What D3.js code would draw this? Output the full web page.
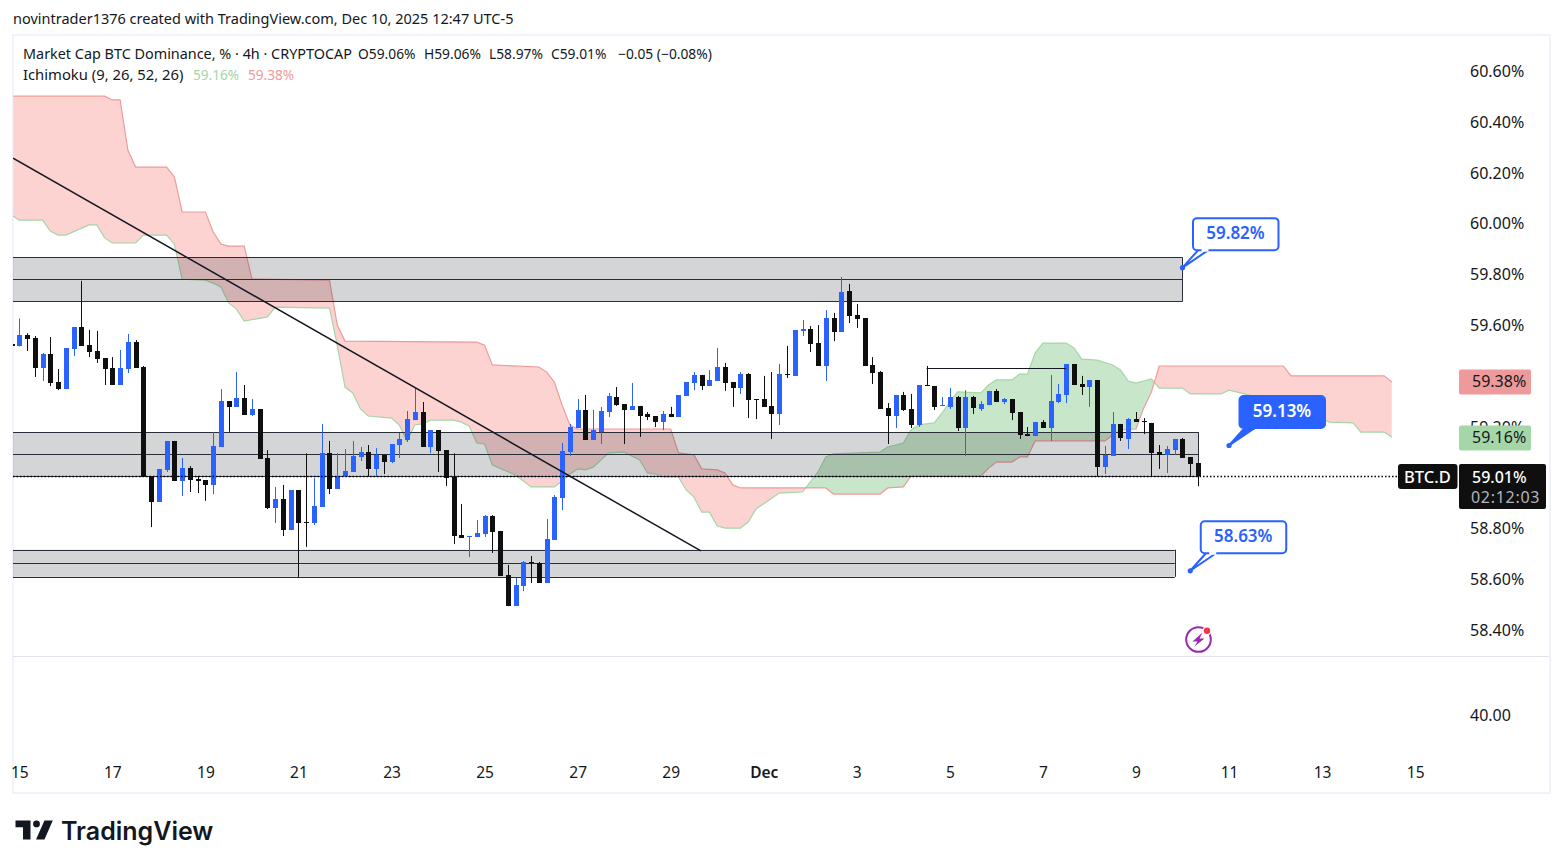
<!DOCTYPE html>
<html>
<head>
<meta charset="utf-8">
<script src="https://cdn.jsdelivr.net/npm/d3@7"></script>
<style>
  html, body { margin: 0; padding: 0; background: #fff; }
  svg { display: block; }
  text { font-family: "Noto Sans", sans-serif; fill: #131722; }
</style>
</head>
<body>
<div class="d3-container"></div>
<script>
// candles, 4h bars. the first one is the sliver cut off by the left edge
const opens = [59.529,
  59.520,59.565,59.553,59.435,59.490,59.380,59.352,59.510,59.596,59.526,
  59.502,59.474,59.435,59.368,59.431,59.537,59.439,59.010,58.908,59.034,
  59.148,58.990,59.041,58.998,58.994,58.975,59.124,59.305,59.282,59.317,
  59.250,59.274,59.081,58.884,58.919,58.797,58.955,58.829,58.825,58.888,
  59.099,58.959,59.006,59.026,59.085,59.104,59.038,59.093,59.065,59.132,
  59.152,59.230,59.262,59.124,59.191,59.112,59.006,58.778,58.771,58.770,
  58.782,58.853,58.794,58.620,58.498,58.577,58.672,58.668,58.589,58.758,
  58.923,59.104,59.199,59.270,59.152,59.183,59.262,59.321,59.293,59.270,
  59.286,59.254,59.246,59.223,59.254,59.242,59.325,59.376,59.408,59.364,
  59.384,59.439,59.380,59.356,59.411,59.313,59.313,59.286,59.254,59.411,
  59.404,59.581,59.589,59.533,59.443,59.632,59.577,59.738,59.644,59.632,
  59.447,59.419,59.278,59.246,59.329,59.274,59.211,59.368,59.364,59.286,
  59.282,59.321,59.199,59.321,59.274,59.289,59.345,59.301,59.313,59.262,
  59.175,59.167,59.223,59.199,59.301,59.329,59.451,59.372,59.360,59.388,
  59.045,59.089,59.215,59.156,59.234,59.226,59.219,59.104,59.093,59.112,
  59.156,59.085,59.060];
const highs = [59.529,
  59.630,59.572,59.561,59.494,59.557,59.431,59.514,59.596,59.778,59.585,
  59.581,59.474,59.478,59.506,59.569,59.545,59.443,59.010,59.038,59.148,
  59.148,59.081,59.049,59.010,58.994,59.183,59.352,59.305,59.419,59.368,
  59.313,59.274,59.112,58.967,58.975,58.955,58.955,59.099,59.002,59.215,
  59.148,59.100,59.116,59.148,59.124,59.132,59.120,59.093,59.136,59.179,
  59.266,59.356,59.301,59.191,59.191,59.112,59.099,58.900,58.774,58.837,
  58.856,58.856,58.794,58.660,58.609,58.675,58.695,58.672,58.841,58.935,
  59.140,59.215,59.313,59.329,59.270,59.282,59.337,59.360,59.293,59.376,
  59.286,59.262,59.246,59.266,59.282,59.329,59.380,59.419,59.408,59.427,
  59.514,59.455,59.380,59.419,59.415,59.313,59.404,59.419,59.451,59.522,
  59.585,59.624,59.600,59.604,59.663,59.652,59.793,59.766,59.687,59.632,
  59.478,59.423,59.297,59.329,59.341,59.333,59.368,59.443,59.364,59.321,
  59.356,59.325,59.348,59.325,59.305,59.345,59.352,59.317,59.313,59.262,
  59.203,59.223,59.230,59.408,59.372,59.451,59.451,59.404,59.388,59.388,
  59.128,59.262,59.215,59.238,59.262,59.238,59.219,59.132,59.128,59.156,
  59.160,59.085,59.060];
const lows = [59.521,
  59.520,59.502,59.400,59.384,59.364,59.348,59.352,59.482,59.522,59.478,
  59.455,59.368,59.368,59.368,59.415,59.435,59.006,58.809,58.908,59.026,
  58.990,58.931,58.947,58.943,58.912,58.939,59.124,59.184,59.282,59.250,
  59.246,59.077,58.880,58.825,58.774,58.797,58.613,58.731,58.817,58.888,
  58.939,58.959,59.006,59.026,59.069,59.010,59.010,59.018,59.061,59.081,
  59.144,59.230,59.124,59.100,59.026,58.971,58.742,58.766,58.691,58.770,
  58.770,58.707,58.616,58.498,58.498,58.557,58.589,58.589,58.589,58.758,
  58.876,59.089,59.199,59.152,59.152,59.136,59.242,59.286,59.136,59.270,
  59.164,59.230,59.203,59.191,59.242,59.242,59.325,59.348,59.348,59.364,
  59.384,59.345,59.282,59.333,59.238,59.234,59.282,59.156,59.211,59.396,
  59.404,59.561,59.498,59.443,59.384,59.541,59.577,59.612,59.593,59.443,
  59.372,59.274,59.136,59.199,59.266,59.199,59.203,59.364,59.270,59.286,
  59.274,59.187,59.089,59.254,59.266,59.289,59.301,59.293,59.230,59.156,
  59.167,59.167,59.199,59.148,59.297,59.297,59.368,59.329,59.282,59.010,
  59.018,59.089,59.148,59.116,59.223,59.175,59.010,59.038,59.022,59.093,
  59.081,59.010,58.970];
const closes = [59.521,
  59.565,59.549,59.435,59.490,59.376,59.352,59.514,59.596,59.522,59.498,
  59.471,59.431,59.368,59.435,59.537,59.435,59.006,58.908,59.038,59.148,
  58.990,59.041,58.994,58.990,58.975,59.128,59.305,59.282,59.317,59.250,
  59.274,59.077,58.884,58.919,58.797,58.955,58.825,58.826,58.892,59.099,
  58.959,59.010,59.030,59.089,59.104,59.038,59.093,59.065,59.136,59.156,
  59.234,59.262,59.124,59.191,59.108,59.002,58.774,58.766,58.774,58.786,
  58.853,58.790,58.616,58.498,58.581,58.672,58.668,58.589,58.762,58.927,
  59.108,59.203,59.270,59.152,59.191,59.266,59.325,59.289,59.270,59.286,
  59.246,59.242,59.223,59.254,59.242,59.329,59.380,59.408,59.364,59.388,
  59.439,59.376,59.356,59.411,59.309,59.310,59.282,59.254,59.411,59.408,
  59.585,59.589,59.530,59.443,59.632,59.577,59.734,59.640,59.628,59.443,
  59.415,59.274,59.246,59.329,59.270,59.211,59.368,59.364,59.282,59.288,
  59.321,59.199,59.321,59.278,59.293,59.345,59.301,59.313,59.258,59.171,
  59.167,59.223,59.199,59.305,59.333,59.451,59.368,59.360,59.388,59.045,
  59.093,59.215,59.160,59.234,59.223,59.224,59.099,59.093,59.116,59.156,
  59.081,59.057,59.010];

// ichimoku spans, read at the corners of each line (bar number, price)
const spanABars = [-0.8,0,3,4,5,6,9,10,11,12,15,16,19,20,21,24,25,26,27,28,29,32,33,40,41,42,43,44,45,48,49,50,51,52,53,56,57,58,59,60,61,64,66,69,70,71,72,73,74,76,78,80,81,82,83,85,86,87,88,89,90,91,93,94,95,98,101,103,104,105,111,112,114,115,116,117,118,119,120,121,124,125,126,128,129,130,131,132,135,136,137,139,141,142,143,144,146,147,150,151,155,156,158,160,163,167,168,169,172,173,176,177];
const spanAValues = [60.033,60.017,60.017,59.974,59.958,59.958,59.998,59.998,59.947,59.927,59.927,59.958,59.958,59.923,59.785,59.781,59.769,59.754,59.691,59.667,59.620,59.636,59.675,59.671,59.525,59.360,59.337,59.274,59.246,59.238,59.211,59.148,59.211,59.215,59.230,59.230,59.222,59.207,59.140,59.136,59.053,59.014,58.967,58.967,58.990,59.018,59.038,59.034,59.045,59.101,59.104,59.073,59.022,59.018,59.006,59.006,58.955,58.927,58.868,58.868,58.813,58.805,58.805,58.829,58.880,58.943,58.947,59.026,59.085,59.097,59.104,59.124,59.140,59.191,59.211,59.215,59.219,59.258,59.301,59.341,59.337,59.368,59.388,59.388,59.411,59.411,59.494,59.533,59.533,59.514,59.470,59.466,59.447,59.427,59.384,59.376,59.392,59.356,59.356,59.333,59.333,59.348,59.333,59.317,59.293,59.250,59.234,59.222,59.219,59.183,59.183,59.163];
const spanBBars = [-0.8,11,12,13,14,15,19,20,21,24,25,26,27,29,30,40,41,42,59,60,61,67,68,69,70,71,72,84,85,87,88,90,91,92,93,104,105,111,112,114,115,124,125,126,128,129,130,131,140,141,142,144,145,146,147,163,164,176,177];
const spanBValues = [60.505,60.505,60.490,60.490,60.293,60.226,60.226,60.187,60.049,60.049,59.970,59.923,59.915,59.915,59.785,59.781,59.604,59.541,59.537,59.525,59.447,59.439,59.419,59.380,59.289,59.211,59.195,59.195,59.101,59.093,59.038,59.034,59.022,58.975,58.963,58.963,58.939,58.939,58.963,58.967,59.010,59.010,59.041,59.065,59.065,59.085,59.085,59.148,59.148,59.171,59.191,59.195,59.278,59.341,59.443,59.443,59.404,59.404,59.380];

// grey channels: top, middle, bottom price and the bar where they end
const channelTops = [59.870, 59.183, 58.720];
const channelMids = [59.784, 59.097, 58.666];
const channelBottoms = [59.697, 59.010, 58.613];
const channelEnds = [150, 152, 149];

// callouts: bar and price of the dot, and the text in the box
const calloutBars = [150, 156, 151];
const calloutPrices = [59.83, 59.13, 58.637];
const calloutLabels = ["59.82%", "59.13%", "58.63%"];

const trendBars = [-0.8, 87.9];
const trendPrices = [60.261, 58.715];
const rayBars = [117, 135];
const rayPrice = 59.434;

// 59.40 and 59.00 sit fully behind the tags in the picture, so they are left out
const priceTicks = [60.6, 60.4, 60.2, 60.0, 59.8, 59.6, 59.2, 58.8, 58.6, 58.4];
const lowerPaneTicks = [40];
const dateBars = [0, 12, 24, 36, 48, 60, 72, 84, 96, 108, 120, 132, 144, 156, 168, 180];
const dateLabels = ["15", "17", "19", "21", "23", "25", "27", "29", "Dec", "3", "5", "7", "9", "11", "13", "15"];

const lastPrice = 59.01;
const spanALast = 59.16;
const spanBLast = 59.38;

const width = 1563;
const height = 868;
const blue = "#2962ff";
const black = "#0f0f0f";
const ink = "#2a2e39";

const svg = d3.select(".d3-container")
  .append("svg")
  .attr("width", width)
  .attr("height", height);

// bar number to x, 6 bars a day
const x = d3.scaleLinear().domain([0, 152]).range([19.3, 1198]);
const y = d3.scaleLinear().domain([58.4, 60.6]).range([631, 72]);

// frame of the chart
svg.append("rect")
  .attr("x", 13).attr("y", 35).attr("width", 1537).attr("height", 758)
  .attr("fill", "#fff").attr("stroke", "#f0f3fa").attr("stroke-width", 2);
svg.append("line")
  .attr("x1", 13).attr("x2", 1549).attr("y1", 656.5).attr("y2", 656.5)
  .attr("stroke", "#e0e3eb");

const defs = svg.append("defs");
defs.append("clipPath").attr("id", "plot")
  .append("rect").attr("x", 13).attr("y", 35).attr("width", 1537).attr("height", 621);

const plot = svg.append("g").attr("clip-path", "url(#plot)");

// cloud. same polygon twice, clipped on either side of span B, that gives the colour swap
const spanA = spanABars.map((b, i) => [x(b), y(spanAValues[i])]);
const spanB = spanBBars.map((b, i) => [x(b), y(spanBValues[i])]);
const line = d3.line();
const cloudShape = spanA.concat(spanB.slice().reverse());
const leftEdge = x(-0.8);
const rightEdge = x(177);

defs.append("clipPath").attr("id", "aboveB").append("path")
  .attr("d", line(spanB.concat([[rightEdge, 0], [leftEdge, 0]])) + "Z");
defs.append("clipPath").attr("id", "belowB").append("path")
  .attr("d", line(spanB.concat([[rightEdge, height], [leftEdge, height]])) + "Z");

plot.append("g").attr("clip-path", "url(#aboveB)").append("path")
  .attr("d", line(cloudShape) + "Z")
  .attr("fill", "#c8e6c9");
plot.append("g").attr("clip-path", "url(#belowB)").append("path")
  .attr("d", line(cloudShape) + "Z")
  .attr("fill", "#fcd3d1");

plot.append("path").attr("d", line(spanA))
  .attr("fill", "none").attr("stroke", "#a5d6a7").attr("stroke-width", 1.2);
plot.append("path").attr("d", line(spanB))
  .attr("fill", "none").attr("stroke", "#ef9a9a").attr("stroke-width", 1.2);

// grey channels
const channels = plot.append("g").selectAll("g")
  .data(channelEnds)
  .join("g");

channels.append("rect")
  .attr("x", 13)
  .attr("y", (d, i) => y(channelTops[i]))
  .attr("width", d => x(d) - 13)
  .attr("height", (d, i) => y(channelBottoms[i]) - y(channelTops[i]))
  .attr("fill", "rgba(42,46,57,0.2)");

[channelTops, channelMids, channelBottoms].forEach(level => {
  channels.append("line")
    .attr("x1", 13)
    .attr("x2", d => x(d))
    .attr("y1", (d, i) => Math.round(y(level[i])) + 0.5)
    .attr("y2", (d, i) => Math.round(y(level[i])) + 0.5)
    .attr("stroke", ink)
    .attr("stroke-width", 1);
});

channels.append("line")
  .attr("x1", d => Math.round(x(d)) + 0.5)
  .attr("x2", d => Math.round(x(d)) + 0.5)
  .attr("y1", (d, i) => y(channelTops[i]))
  .attr("y2", (d, i) => y(channelBottoms[i]))
  .attr("stroke", ink);

// candles
const candles = plot.append("g").selectAll("g")
  .data(d3.range(opens.length))
  .join("g")
  .attr("fill", i => closes[i] >= opens[i] ? blue : black);

candles.append("rect")
  .attr("x", i => Math.round(x(i - 1)))
  .attr("width", 1)
  .attr("y", i => y(highs[i]))
  .attr("height", i => y(lows[i]) - y(highs[i]));

candles.append("rect")
  .attr("x", i => Math.round(x(i - 1)) - 2)
  .attr("width", 5)
  .attr("y", i => Math.round(y(Math.max(opens[i], closes[i]))))
  .attr("height", i => Math.max(1, Math.round(Math.abs(y(opens[i]) - y(closes[i])))));

// trend line and the horizontal ray
plot.append("line")
  .attr("x1", x(trendBars[0])).attr("y1", y(trendPrices[0]))
  .attr("x2", x(trendBars[1])).attr("y2", y(trendPrices[1]))
  .attr("stroke", "#131722").attr("stroke-width", 1.5);

plot.append("line")
  .attr("x1", x(rayBars[0])).attr("x2", x(rayBars[1]))
  .attr("y1", Math.round(y(rayPrice)) + 0.5).attr("y2", Math.round(y(rayPrice)) + 0.5)
  .attr("stroke", "#131722").attr("stroke-width", 1);

// last price dotted line
plot.append("line")
  .attr("x1", 13).attr("x2", 1398)
  .attr("y1", Math.round(y(lastPrice)) + 0.5).attr("y2", Math.round(y(lastPrice)) + 0.5)
  .attr("stroke", "#000").attr("stroke-width", 1.4).attr("stroke-dasharray", "1.5 2");

// callouts, all with the same box offset from the dot
const callouts = svg.append("g").selectAll("g")
  .data(calloutLabels)
  .join("g")
  .attr("transform", (d, i) => `translate(${x(calloutBars[i])},${y(calloutPrices[i])})`);

callouts.append("path")
  .attr("d", "M0 0L17 -19L28 -19Z")
  .attr("fill", (d, i) => i == 1 ? blue : "#fff")
  .attr("stroke", blue).attr("stroke-width", 2).attr("stroke-linejoin", "round");

callouts.append("rect")
  .attr("x", 10.5).attr("y", -49.5).attr("width", 85.5).attr("height", 32).attr("rx", 4)
  .attr("fill", (d, i) => i == 1 ? blue : "#fff")
  .attr("stroke", blue).attr("stroke-width", 2);

// covers the box edge above the tail
callouts.append("rect")
  .attr("x", 19).attr("y", -19).attr("width", 7).attr("height", 3)
  .attr("fill", (d, i) => i == 1 ? blue : "#fff");

callouts.append("circle").attr("r", 2.6).attr("fill", blue);

callouts.append("text")
  .attr("x", 53).attr("y", -29)
  .attr("text-anchor", "middle")
  .attr("font-size", 17).attr("font-weight", 600)
  .style("fill", (d, i) => i == 1 ? "#fff" : blue)
  .text(d => d);

// price axis
const priceAxis = svg.append("g")
  .attr("transform", "translate(1470,0)")
  .call(d3.axisRight(y).tickValues(priceTicks).tickFormat(d => d3.format(".2f")(d) + "%").tickSize(0).tickPadding(0));
priceAxis.select(".domain").remove();
priceAxis.selectAll("text").attr("font-size", 16).attr("dy", "0.28em").style("font-family", null);

// lower pane axis
const lowerY = d3.scaleLinear().domain([40, 41]).range([715, 701]);
const lowerAxis = svg.append("g")
  .attr("transform", "translate(1470,0)")
  .call(d3.axisRight(lowerY).tickValues(lowerPaneTicks).tickFormat(d3.format(".2f")).tickSize(0).tickPadding(0));
lowerAxis.select(".domain").remove();
lowerAxis.selectAll("text").attr("font-size", 16).style("font-family", null);

// date axis
const dateAxis = svg.append("g")
  .attr("transform", "translate(0,767)")
  .call(d3.axisBottom(x).tickValues(dateBars).tickFormat((d, i) => dateLabels[i]).tickSize(0).tickPadding(0));
dateAxis.select(".domain").remove();
dateAxis.selectAll("text").attr("font-size", 15.5).attr("dy", "0.71em").style("font-family", null)
  .attr("font-weight", (d, i) => dateLabels[i] == "Dec" ? 600 : 400);

// price tags on the axis
function tag(price, label, colour) {
  svg.append("rect")
    .attr("x", 1459).attr("y", y(price) - 12.5).attr("width", 72).attr("height", 25).attr("rx", 2)
    .attr("fill", colour);
  svg.append("text")
    .attr("x", 1472).attr("y", y(price) + 5.5)
    .attr("font-size", 16)
    .text(label);
}
tag(spanBLast, d3.format(".2f")(spanBLast) + "%", "#ef9a9a");
tag(spanALast, d3.format(".2f")(spanALast) + "%", "#a5d6a7");

svg.append("rect")
  .attr("x", 1398).attr("y", y(lastPrice) - 12).attr("width", 59.5).attr("height", 25).attr("rx", 3)
  .attr("fill", black);
svg.append("text")
  .attr("x", 1404).attr("y", y(lastPrice) + 6.5)
  .attr("font-size", 16.5).attr("font-weight", 500)
  .style("fill", "#fff")
  .text("BTC.D");
svg.append("rect")
  .attr("x", 1459).attr("y", y(lastPrice) - 12).attr("width", 87).attr("height", 45).attr("rx", 2)
  .attr("fill", black);
svg.append("text")
  .attr("x", 1472).attr("y", y(lastPrice) + 6.5)
  .attr("font-size", 16).attr("font-weight", 500)
  .style("fill", "#fff")
  .text(d3.format(".2f")(lastPrice) + "%");
svg.append("text")
  .attr("x", 1471).attr("y", y(lastPrice) + 27)
  .attr("font-size", 16).attr("letter-spacing", 0.7)
  .style("fill", "#b2b5be")
  .text("02:12:03");

// lightning icon near the bottom of the plot
const icon = svg.append("g").attr("transform", "translate(1198.5,639.5)");
icon.append("circle").attr("r", 12.3)
  .attr("fill", "none").attr("stroke", "#9c27b0").attr("stroke-width", 2);
icon.append("path")
  .attr("d", "M4 -7L-6 2L-1 2L-4 7L6 -1L1 -1Z")
  .attr("fill", "#9c27b0");
icon.append("circle").attr("cx", 8.5).attr("cy", -8.8).attr("r", 4.5).attr("fill", "#fff");
icon.append("circle").attr("cx", 8.5).attr("cy", -8.8).attr("r", 3.2).attr("fill", "#f23645");

// header and legend
svg.append("text").attr("x", 13).attr("y", 24).attr("font-size", 14.5)
  .text("novintrader1376 created with TradingView.com, Dec 10, 2025 12:47 UTC-5");
svg.append("text").attr("x", 23).attr("y", 59).attr("font-size", 14.4)
  .text("Market Cap BTC Dominance, % \u00b7 4h \u00b7 CRYPTOCAP");

const legendParts = ["O59.06%", "H59.06%", "L58.97%", "C59.01%", "\u22120.05 (\u22120.08%)"];
const legendX = [358, 424, 489, 551, 618];
legendParts.forEach((d, i) => {
  svg.append("text").attr("x", legendX[i]).attr("y", 59).attr("font-size", 13.8).text(d);
});

svg.append("text").attr("x", 23).attr("y", 80).attr("font-size", 14.8)
  .text("Ichimoku (9, 26, 52, 26)");
svg.append("text").attr("x", 193).attr("y", 80).attr("font-size", 13.6)
  .style("fill", "#a5d6a7").text(d3.format(".2f")(spanALast) + "%");
svg.append("text").attr("x", 248).attr("y", 80).attr("font-size", 13.6)
  .style("fill", "#ef9a9a").text(d3.format(".2f")(spanBLast) + "%");

// tradingview logo
const logo = svg.append("g").attr("transform", "translate(15.5,820.5)").attr("fill", "#131722");
logo.append("path").attr("d", "M0 0H15V19H7.5V6.8H0Z");
logo.append("circle").attr("cx", 21).attr("cy", 3.4).attr("r", 3.4);
logo.append("path").attr("d", "M29 0H37.3L29 19H20.5Z");
svg.append("text")
  .attr("x", 61).attr("y", 840)
  .attr("font-size", 25).attr("font-weight", 600)
  .style("font-family", "Inter, sans-serif")
  .text("TradingView");
</script>
</body>
</html>
